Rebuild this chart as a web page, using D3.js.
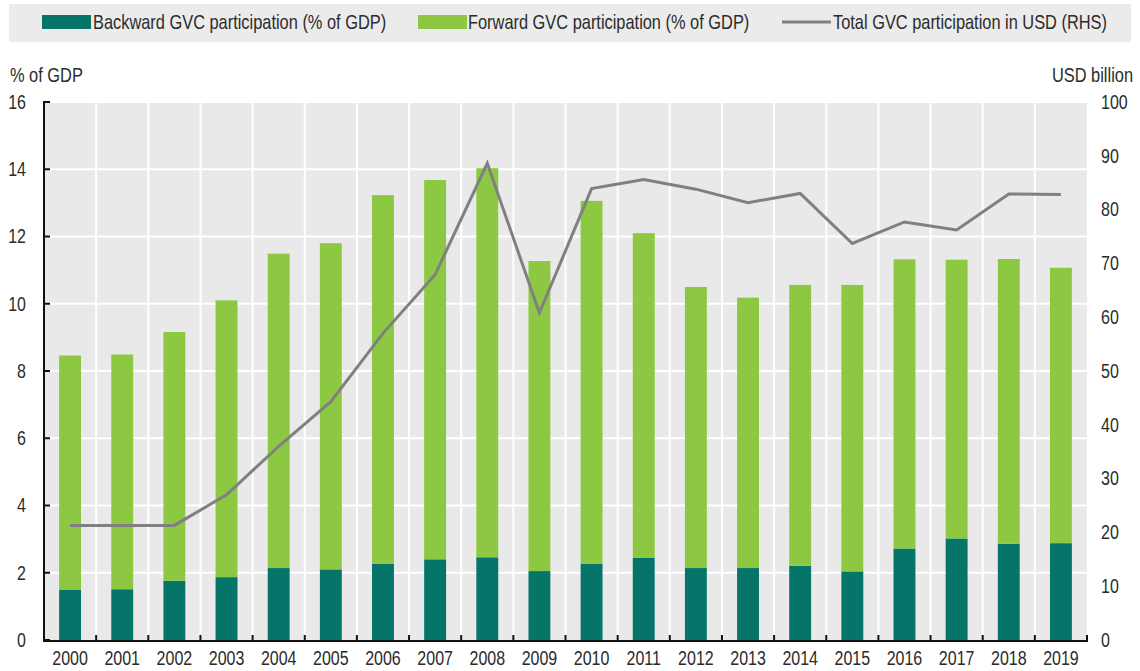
<!DOCTYPE html>
<html>
<head>
<meta charset="utf-8">
<script src="https://cdn.jsdelivr.net/npm/d3@7"></script>
<style>
  html, body { margin: 0; padding: 0; background: #ffffff; }
  svg { display: block; }
  text { font-family: 'Liberation Sans', Arial, sans-serif; fill: #2b2b2b; }
</style>
</head>
<body>
<svg id="chart" width="1140" height="671"></svg>
<script>
const years = ["2000","2001","2002","2003","2004","2005","2006","2007","2008","2009","2010","2011","2012","2013","2014","2015","2016","2017","2018","2019"];
const backward = [1.50,1.51,1.76,1.87,2.14,2.10,2.27,2.40,2.46,2.05,2.27,2.44,2.14,2.14,2.21,2.04,2.72,3.02,2.86,2.88];
const forward  = [6.96,6.98,7.40,8.23,9.35,9.70,10.96,11.28,11.57,9.22,10.79,9.66,8.36,8.04,8.35,8.52,8.60,8.29,8.47,8.19];
const totalUSD = [21.3,21.3,21.3,27.0,36.0,44.3,57.0,67.9,88.6,60.8,83.9,85.6,83.8,81.3,83.0,73.7,77.7,76.2,82.9,82.8];
const leftTicks = [0,2,4,6,8,10,12,14,16];
const rightTicks = [0,10,20,30,40,50,60,70,80,90,100];
const seriesNames = ["Backward GVC participation (% of GDP)","Forward GVC participation (% of GDP)","Total GVC participation in USD (RHS)"];
const colors = { backward: "#05756a", forward: "#8cc842", line: "#808080" };

const svg = d3.select("#chart");
const x0 = 44, x1 = 1087, yTop = 102, yBot = 640;
const SX = 0.82; // horizontal condensing to mimic a narrow face

function addText(g, xp, yp, str, anchor, size, dy) {
  return g.append("text")
    .attr("transform", `translate(${xp},${yp}) scale(${SX},1)`)
    .attr("text-anchor", anchor || "start")
    .attr("dy", dy || null)
    .attr("font-size", size)
    .text(str);
}

const x = d3.scaleBand().domain(years).range([x0, x1]).paddingInner(0).paddingOuter(0);
const yL = d3.scaleLinear().domain([0, 16]).range([yBot, yTop]);
const yR = d3.scaleLinear().domain([0, 100]).range([yBot, yTop]);

// Legend
const lg = svg.append("g");
lg.append("rect").attr("x", 9).attr("y", 4).attr("width", 1122).attr("height", 38).attr("fill", "#ebebeb");
const legendItems = [
  { name: seriesNames[0], type: "rect", color: colors.backward, sx: 42, tx: 93 },
  { name: seriesNames[1], type: "rect", color: colors.forward, sx: 418, tx: 468 },
  { name: seriesNames[2], type: "line", color: colors.line, sx: 782, tx: 833 }
];
legendItems.forEach(d => {
  if (d.type === "rect") {
    lg.append("rect").attr("x", d.sx).attr("y", 15).attr("width", 49).attr("height", 14).attr("fill", d.color);
  } else {
    lg.append("line").attr("x1", d.sx).attr("x2", d.sx + 49).attr("y1", 22).attr("y2", 22)
      .attr("stroke", d.color).attr("stroke-width", 3);
  }
  addText(lg, d.tx, 29, d.name, "start", 20);
});

// Plot background
svg.append("rect").attr("x", x0).attr("y", yTop).attr("width", x1 - x0).attr("height", yBot - yTop).attr("fill", "#e9e9e9");

// Grid lines
const grid = svg.append("g");
grid.selectAll("line.h").data(leftTicks.filter(t => t > 0)).join("line")
  .attr("x1", x0).attr("x2", x1).attr("y1", d => yL(d)).attr("y2", d => yL(d))
  .attr("stroke", "#ffffff").attr("stroke-width", 2);
const bounds = years.map(y => x(y)).concat([x1]);
grid.selectAll("line.v").data(bounds.slice(1, -1)).join("line")
  .attr("x1", d => d).attr("x2", d => d).attr("y1", yTop).attr("y2", yBot)
  .attr("stroke", "#ffffff").attr("stroke-width", 2);

// Stacked bars
const data = years.map((yr, i) => ({ year: yr, backward: backward[i], forward: forward[i] }));
const stack = d3.stack().keys(["backward", "forward"]);
const stacked = stack(data);
const barW = x.bandwidth() * 0.42;
svg.append("g").selectAll("g").data(stacked).join("g")
  .attr("fill", d => colors[d.key])
  .selectAll("rect").data(d => d).join("rect")
  .attr("x", d => x(d.data.year) + (x.bandwidth() - barW) / 2)
  .attr("width", barW)
  .attr("y", d => yL(d[1]))
  .attr("height", d => yL(d[0]) - yL(d[1]));

// Line
const line = d3.line().x((d, i) => x(years[i]) + x.bandwidth() / 2).y(d => yR(d));
svg.append("path").datum(totalUSD).attr("d", line)
  .attr("fill", "none").attr("stroke", colors.line).attr("stroke-width", 3).attr("stroke-linejoin", "miter");

// Left axis
const axL = svg.append("g");
axL.append("line").attr("x1", x0).attr("x2", x0).attr("y1", yTop - 1).attr("y2", yBot + 1).attr("stroke", "#111").attr("stroke-width", 2);
axL.selectAll("line.t").data(leftTicks).join("line")
  .attr("x1", x0).attr("x2", x0 + 6).attr("y1", d => yL(d)).attr("y2", d => yL(d))
  .attr("stroke", "#111").attr("stroke-width", 2);
leftTicks.forEach(t => addText(axL, 26, yL(t), String(t), "end", 19.5, "0.35em"));
addText(svg, 10, 82, "% of GDP", "start", 20);

// Bottom axis
const axB = svg.append("g");
axB.append("line").attr("x1", x0 - 1).attr("x2", x1 + 1).attr("y1", yBot + 1).attr("y2", yBot + 1).attr("stroke", "#111").attr("stroke-width", 2);
axB.selectAll("line.t").data(bounds).join("line")
  .attr("x1", d => d).attr("x2", d => d).attr("y1", yBot + 1).attr("y2", yBot - 5)
  .attr("stroke", "#111").attr("stroke-width", 2);
years.forEach(yr => addText(axB, x(yr) + x.bandwidth() / 2, 665, yr, "middle", 19.5));

// Right axis labels
const axR = svg.append("g");
rightTicks.forEach(t => addText(axR, 1101, yR(t), String(t), "start", 19.5, "0.35em"));
addText(svg, 1133, 82, "USD billion", "end", 20);
</script>
</body>
</html>
